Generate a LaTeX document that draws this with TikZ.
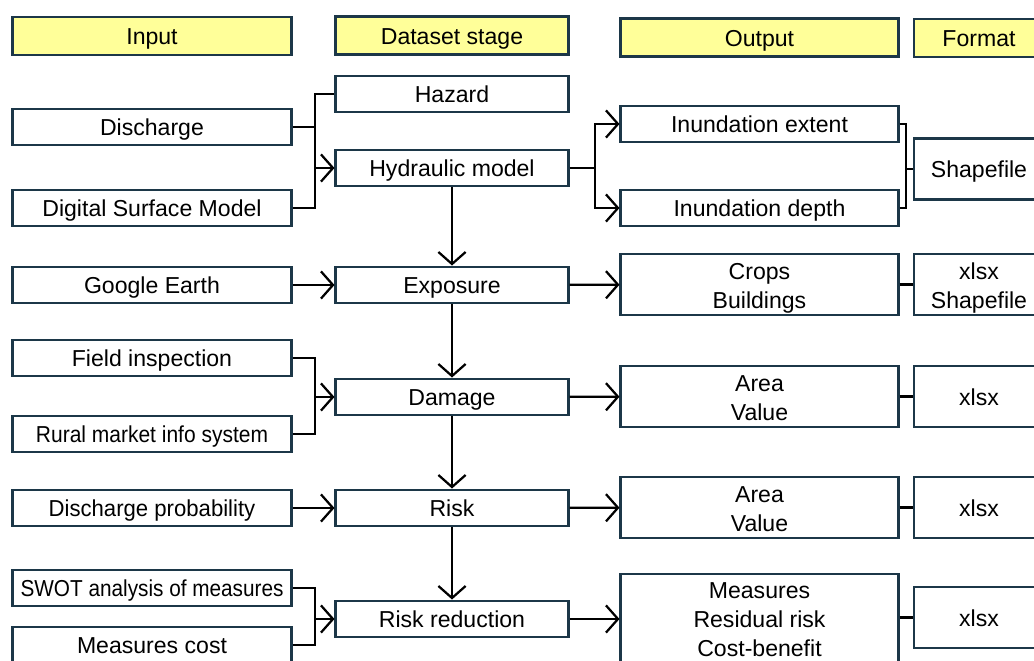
\documentclass[tikz,border=0pt]{standalone}
\usepackage{fontspec}
\setmainfont{Liberation Sans}
\usetikzlibrary{arrows.meta}
\definecolor{boxline}{RGB}{28,55,72}
\definecolor{hdrfill}{RGB}{255,255,153}
\tikzset{
	box/.style={draw=boxline, line width=2.1pt, fill=white, inner sep=0pt, align=center,
		font=\fontsize{16.4}{20.5}\selectfont},
	oneline/.style={text height=12.6pt, text depth=0pt},
	twoline/.style={text height=34.2pt, text depth=0pt},
	threeline/.style={text height=53.5pt, text depth=0pt},
	hdr/.style={box, oneline, fill=hdrfill, minimum height=0.95cm},
	inbox/.style={box, oneline, minimum width=6.95cm, minimum height=0.9cm},
	stagebox/.style={box, oneline, minimum width=5.8cm, minimum height=0.9cm},
	outbox/.style={box, twoline, minimum width=6.925cm, minimum height=1.525cm},
	fmtbox/.style={box, oneline, minimum width=3.25cm, minimum height=1.525cm},
	link/.style={line width=1.6pt, black},
	arr/.style={link, -{Straight Barb[length=0.3cm, width=0.68cm]}}
}
\begin{document}
\begin{tikzpicture}[x=0.025cm, y=-0.025cm]
			%%%%% START %%%%%
			\useasboundingbox (0, 0) rectangle (1034, 661);
			
			% column heads
			\node[hdr, minimum width=6.95cm] (inh) at (152, 36) {Input};
			\node[hdr, minimum width=5.8cm] (dsh) at (452, 35.5) {Dataset stage};
			\node[hdr, minimum width=6.925cm] (outh) at (759.5, 37.5) {Output};
			\node[hdr, minimum width=3.25cm] (fmth) at (979, 38) {Format};
			
			% input
			\node[inbox] (dis) at (152, 127) {Discharge};
			\node[inbox] (dsm) at (152, 208) {Digital Surface Model};
			\node[inbox] (ge) at (152, 285) {Google Earth};
			\node[inbox] (fi) at (152, 358) {Field inspection};
			\node[inbox] (rm) at (152, 434) {\scalebox{0.91}[1]{Rural market info system}};
			\node[inbox] (dp) at (152, 508) {\scalebox{0.96}[1]{Discharge probability}};
			\node[inbox] (swot) at (152, 588) {\scalebox{0.9}[1]{SWOT analysis of measures}};
			\node[inbox] (mc) at (152, 645) {Measures cost};
			
			% dataset stage
			\node[stagebox] (haz) at (452, 94) {Hazard};
			\node[stagebox] (hyd) at (452, 168) {Hydraulic model};
			\node[stagebox] (exp) at (452, 285) {Exposure};
			\node[stagebox] (dam) at (452, 397) {Damage};
			\node[stagebox] (risk) at (452, 508) {Risk};
			\node[stagebox] (rr) at (452, 619) {Risk reduction};
			
			% output
			\node[outbox, oneline, minimum height=0.9cm] (ext) at (759.5, 124) {Inundation extent};
			\node[outbox, oneline, minimum height=0.9cm] (dep) at (759.5, 208) {Inundation depth};
			\node[outbox] (oexp) at (759.5, 284.5) {Crops\\Buildings};
			\node[outbox] (odam) at (759.5, 396.5) {Area\\Value};
			\node[outbox] (orisk) at (759.5, 507.5) {Area\\Value};
			\node[outbox, threeline, minimum height=2.25cm] (orr) at (759.5, 619) {Measures\\Residual risk\\Cost-benefit};
			
			% format
			\node[fmtbox] (shp) at (979, 169) {Shapefile};
			\node[fmtbox, twoline] (fexp) at (979, 284.5) {xlsx\\Shapefile};
			\node[fmtbox] (fdam) at (979, 396.5) {xlsx};
			\node[fmtbox] (frisk) at (979, 507.5) {xlsx};
			\node[fmtbox] (frr) at (979, 617.5) {xlsx};
			
			% junctions
			\coordinate (j1) at (315, 168);
			\coordinate (j2) at (595, 168);
			\coordinate (j3) at (906, 169);
			\coordinate (j4) at (315, 397);
			\coordinate (j5) at (315, 619);
			
			\draw[link] (dis.east) -| (j1);
			\draw[link] (dsm.east) -| (j1);
			\draw[link] (haz.west) -| (j1);
			\draw[arr] (j1) -- (hyd.west);
			
			\draw[link] (hyd.east) -- (j2);
			\draw[arr] (j2) |- (ext.west);
			\draw[arr] (j2) |- (dep.west);
			
			\draw[link] (ext.east) -| (j3);
			\draw[link] (dep.east) -| (j3);
			\draw[link] (j3) -- (shp.west);
			
			\draw[arr] (hyd) -- (exp);
			\draw[arr] (ge) -- (exp);
			\draw[arr] (exp) -- (oexp);
			\draw[link] (oexp) -- (fexp);
			
			\draw[arr] (exp) -- (dam);
			\draw[link] (fi.east) -| (j4);
			\draw[link] (rm.east) -| (j4);
			\draw[arr] (j4) -- (dam.west);
			\draw[arr] (dam) -- (odam);
			\draw[link] (odam) -- (fdam);
			
			\draw[arr] (dam) -- (risk);
			\draw[arr] (dp) -- (risk);
			\draw[arr] (risk) -- (orisk);
			\draw[link] (orisk) -- (frisk);
			
			\draw[arr] (risk) -- (rr);
			\draw[link] (swot.east) -| (j5);
			\draw[link] (mc.east) -| (j5);
			\draw[arr] (j5) -- (rr.west);
			\draw[arr] (rr) -- (orr);
			\draw[link] (orr.east |- frr) -- (frr);
			
			%%%%% END %%%%%
\end{tikzpicture}
\end{document}
